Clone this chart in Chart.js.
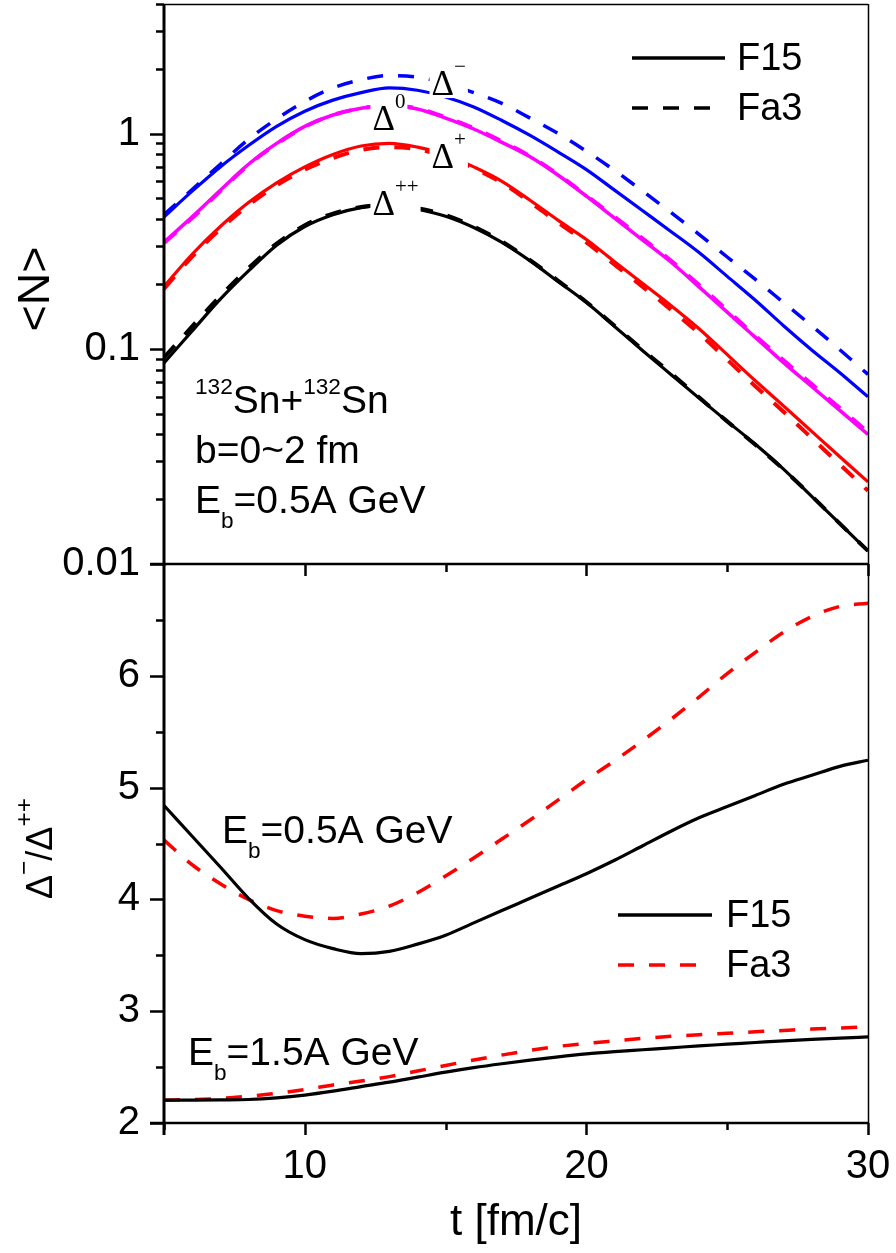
<!DOCTYPE html>
<html>
<head>
<meta charset="utf-8">
<script src="https://cdn.jsdelivr.net/npm/chart.js@4.4.1/dist/chart.umd.min.js"></script>
<style>
    html, body { margin: 0; padding: 0; background: #fff; }
    #wrap { position: relative; width: 896px; height: 1253px; }
    canvas { position: absolute; left: 0; }
    #topChart { top: 0; }
    #botChart { top: 540px; }
</style>
</head>
<body>
<div id="wrap">
    <canvas id="topChart" width="896" height="600"></canvas>
    <canvas id="botChart" width="896" height="713"></canvas>
</div>
<script>
// time axis (fm/c)
const tValues = [5, 6, 7, 8, 9, 10, 11, 12, 13, 14, 15, 16, 17, 18, 19, 20, 21, 22, 23, 24, 25, 26, 27, 28, 29, 30];

// upper panel: <N> of each delta species
const dMinusF15 = [0.41, 0.54, 0.70, 0.88, 1.08, 1.27, 1.43, 1.55, 1.63, 1.59, 1.48, 1.33, 1.15, 0.98, 0.82, 0.68, 0.546, 0.438, 0.351, 0.28, 0.217, 0.168, 0.128, 0.0988, 0.0774, 0.0598];
const dMinusFa3 = [0.42, 0.55, 0.72, 0.94, 1.17, 1.41, 1.63, 1.78, 1.86, 1.83, 1.71, 1.55, 1.38, 1.18, 1.0, 0.828, 0.674, 0.54, 0.43, 0.34, 0.267, 0.21, 0.164, 0.128, 0.099, 0.076];
const dZeroF15 = [0.313, 0.41, 0.545, 0.72, 0.90, 1.08, 1.22, 1.31, 1.35, 1.30, 1.18, 1.05, 0.91, 0.78, 0.64, 0.512, 0.405, 0.32, 0.253, 0.194, 0.148, 0.113, 0.0863, 0.0668, 0.0517, 0.040];
const dZeroFa3 = [0.31, 0.405, 0.54, 0.715, 0.895, 1.075, 1.22, 1.31, 1.35, 1.31, 1.19, 1.06, 0.92, 0.785, 0.645, 0.515, 0.41, 0.325, 0.257, 0.198, 0.151, 0.115, 0.0885, 0.0685, 0.053, 0.041];
const dPlusF15 = [0.195, 0.275, 0.37, 0.478, 0.59, 0.70, 0.80, 0.875, 0.90, 0.865, 0.80, 0.70, 0.60, 0.49, 0.395, 0.322, 0.254, 0.201, 0.159, 0.124, 0.094, 0.071, 0.0543, 0.0413, 0.0315, 0.0241];
const dPlusFa3 = [0.19, 0.268, 0.36, 0.465, 0.575, 0.68, 0.77, 0.84, 0.865, 0.845, 0.78, 0.69, 0.59, 0.48, 0.385, 0.312, 0.246, 0.194, 0.152, 0.118, 0.089, 0.067, 0.051, 0.0385, 0.029, 0.0219];
const dPPF15 = [0.086, 0.121, 0.170, 0.230, 0.303, 0.370, 0.420, 0.453, 0.465, 0.445, 0.413, 0.366, 0.312, 0.256, 0.205, 0.164, 0.127, 0.098, 0.076, 0.059, 0.046, 0.036, 0.0276, 0.0206, 0.0154, 0.0115];
const dPPFa3 = [0.091, 0.127, 0.176, 0.237, 0.308, 0.375, 0.425, 0.456, 0.467, 0.45, 0.418, 0.37, 0.315, 0.258, 0.207, 0.165, 0.128, 0.099, 0.077, 0.0595, 0.046, 0.0358, 0.0275, 0.0207, 0.0154, 0.0115];

// lower panel: ratio delta- / delta++
const ratio05F15 = [4.84, 4.565, 4.29, 4.01, 3.78, 3.64, 3.56, 3.515, 3.535, 3.60, 3.68, 3.79, 3.90, 4.01, 4.12, 4.23, 4.35, 4.48, 4.61, 4.73, 4.83, 4.93, 5.03, 5.11, 5.19, 5.245];
const ratio05Fa3 = [4.53, 4.31, 4.14, 4.0, 3.9, 3.85, 3.83, 3.87, 3.94, 4.06, 4.21, 4.37, 4.54, 4.71, 4.89, 5.07, 5.24, 5.42, 5.61, 5.81, 6.02, 6.21, 6.39, 6.53, 6.62, 6.65];
const ratio15F15 = [2.204, 2.205, 2.207, 2.21, 2.225, 2.25, 2.285, 2.325, 2.365, 2.41, 2.455, 2.495, 2.53, 2.562, 2.592, 2.618, 2.638, 2.655, 2.672, 2.69, 2.705, 2.72, 2.735, 2.748, 2.76, 2.77];
const ratio15Fa3 = [2.204, 2.21, 2.22, 2.24, 2.265, 2.30, 2.34, 2.375, 2.415, 2.465, 2.515, 2.563, 2.608, 2.65, 2.685, 2.712, 2.735, 2.757, 2.775, 2.79, 2.803, 2.816, 2.828, 2.84, 2.85, 2.86];

// ticks
const xLabelVals = [10, 20, 30];
const xMinorVals = [5, 15, 25];
const topYLabelVals = [0.01, 0.1, 1];
const topYLabels = ['0.01', '0.1', '1'];
const topYMinorVals = [0.02, 0.03, 0.04, 0.05, 0.06, 0.07, 0.08, 0.09, 0.2, 0.3, 0.4, 0.5, 0.6, 0.7, 0.8, 0.9, 2, 3, 4];
const botYLabelVals = [2, 3, 4, 5, 6];
const botYMinorVals = [2.5, 3.5, 4.5, 5.5, 6.5];

const SANS = "'Liberation Sans', Arial, sans-serif";
const SERIF = "'Liberation Serif', 'Times New Roman', serif";
const DASH = [16, 15];

function pts(ys) {
    return tValues.map((t, i) => ({ x: t, y: ys[i] }));
}

function curve(label, ys, color, dashed, width) {
    return {
        label: label,
        data: pts(ys),
        borderColor: color,
        borderWidth: width,
        borderDash: dashed ? DASH : [],
        pointRadius: 0,
        fill: false,
        cubicInterpolationMode: 'monotone'
    };
}

// text with super/subscripts; parts = [[text, 'sup'|'sub'|'']]
function rich(ctx, x, y, parts, size, family, o, measureOnly) {
    o = o || {};
    const supScale = o.supScale || 0.58, supShift = o.supShift || 0.5;
    const subScale = o.subScale || 0.58, subShift = o.subShift || 0.38;
    let cx = x;
    ctx.textBaseline = 'alphabetic';
    ctx.textAlign = 'left';
    for (const [txt, kind] of parts) {
        let fs = size, dy = 0;
        if (kind === 'sup') { fs = size * supScale; dy = -size * supShift; }
        if (kind === 'sub') { fs = size * subScale; dy = size * subShift; }
        ctx.font = fs + 'px ' + family;
        if (!measureOnly) ctx.fillText(txt, cx, y + dy);
        cx += ctx.measureText(txt).width;
    }
    return cx - x;
}

function tickY(ctx, scale, x, vals, len) {
    vals.forEach(v => {
        const y = Math.round(scale.getPixelForValue(v)) + 0.5;
        ctx.beginPath();
        ctx.moveTo(x - len, y);
        ctx.lineTo(x, y);
        ctx.stroke();
    });
}

function tickX(ctx, scale, y, vals, len) {
    vals.forEach(v => {
        const x = Math.round(scale.getPixelForValue(v)) + 0.5;
        ctx.beginPath();
        ctx.moveTo(x, y);
        ctx.lineTo(x, y + len);
        ctx.stroke();
    });
}

function legendRow(ctx, x0, x1, y, color, dashed, text, tx) {
    ctx.save();
    ctx.strokeStyle = color;
    ctx.lineWidth = 3.5;
    ctx.setLineDash(dashed ? DASH : []);
    ctx.beginPath();
    ctx.moveTo(x0, y);
    ctx.lineTo(x1, y);
    ctx.stroke();
    ctx.restore();
    ctx.fillStyle = '#000';
    ctx.font = '38px ' + SANS;
    ctx.textAlign = 'left';
    ctx.textBaseline = 'middle';
    ctx.fillText(text, tx, y + 2);
}

// drop the automatic label padding so the plot areas line up exactly
function noPad(s) {
    s.paddingTop = 0;
    s.paddingBottom = 0;
    s.paddingLeft = 0;
    s.paddingRight = 0;
}

// delta labels on the upper panel, anchored in data space
const deltaLabels = [
    { sup: '\u2212', t: 14.5, v: 1.51 },
    { sup: '0', t: 12.4, v: 1.04 },
    { sup: '+', t: 14.5, v: 0.692 },
    { sup: '++', t: 12.4, v: 0.418 }
];

const topDecor = {
    id: 'topDecor',
    afterDatasetsDraw(chart) {
        const { ctx, scales: { x, y } } = chart;
        ctx.save();
        deltaLabels.forEach(d => {
            const px = x.getPixelForValue(d.t);
            const py = y.getPixelForValue(d.v);
            const opts = { supScale: 0.6, supShift: 0.64 };
            const w = rich(ctx, px, py, [['\u0394', ''], [d.sup, 'sup']], 35, SERIF, opts, true);
            ctx.fillStyle = '#fff';
            ctx.fillRect(px - 2, py - 36, w + 4, 39);
            ctx.fillStyle = '#000';
            rich(ctx, px, py, [['\u0394', ''], [d.sup, 'sup']], 35, SERIF, opts);
        });
        ctx.restore();
    },
    afterDraw(chart) {
        const { ctx, chartArea: a, scales: { x, y } } = chart;
        ctx.save();
        ctx.strokeStyle = '#000';
        // frame
        ctx.lineWidth = 1.5;
        ctx.beginPath();
        ctx.moveTo(a.left, a.top + 0.5);
        ctx.lineTo(a.right, a.top + 0.5);
        ctx.moveTo(a.right + 0.5, a.top);
        ctx.lineTo(a.right + 0.5, a.bottom);
        ctx.stroke();
        ctx.lineWidth = 3;
        ctx.beginPath();
        ctx.moveTo(a.left, a.top);
        ctx.lineTo(a.left, a.bottom + 2);
        ctx.stroke();
        ctx.lineWidth = 2.5;
        ctx.beginPath();
        ctx.moveTo(a.left - 14, a.bottom);
        ctx.lineTo(a.right + 1, a.bottom);
        ctx.stroke();
        // ticks
        ctx.lineWidth = 2.5;
        tickY(ctx, y, a.left, topYLabelVals, 14);
        tickY(ctx, y, a.left, topYMinorVals, 8);
        tickX(ctx, x, a.bottom, xLabelVals, 12);
        tickX(ctx, x, a.bottom, [15, 25], 8);

        // legend
        legendRow(ctx, a.right - 236, a.right - 143, a.top + 54, '#000', false, 'F15', a.right - 131);
        legendRow(ctx, a.right - 236, a.right - 158, a.top + 104, '#000', true, 'Fa3', a.right - 131);

        // reaction annotation
        ctx.fillStyle = '#000';
        const fs = 39;
        rich(ctx, a.left + 31, a.top + 409, [['132', 'sup'], ['Sn+', ''], ['132', 'sup'], ['Sn', '']], fs, SANS);
        rich(ctx, a.left + 31, a.top + 459, [['b=0~2 fm', '']], fs, SANS);
        rich(ctx, a.left + 31, a.top + 509, [['E', ''], ['b', 'sub'], ['=0.5A GeV', '']], fs, SANS);

        // y title
        ctx.translate(37, (a.top + a.bottom) / 2 + 5);
        ctx.rotate(-Math.PI / 2);
        ctx.font = '45px ' + SANS;
        ctx.textAlign = 'center';
        ctx.textBaseline = 'middle';
        ctx.fillText('<N>', 0, 0);
        ctx.restore();
    }
};

const botDecor = {
    id: 'botDecor',
    afterDraw(chart) {
        const { ctx, chartArea: a, scales: { x, y } } = chart;
        ctx.save();
        ctx.strokeStyle = '#000';
        ctx.lineWidth = 1.5;
        ctx.beginPath();
        ctx.moveTo(a.right + 0.5, a.top);
        ctx.lineTo(a.right + 0.5, a.bottom);
        ctx.stroke();
        ctx.lineWidth = 3;
        ctx.beginPath();
        ctx.moveTo(a.left, a.top);
        ctx.lineTo(a.left, a.bottom + 12);
        ctx.stroke();
        ctx.lineWidth = 2.5;
        ctx.beginPath();
        ctx.moveTo(a.left - 14, a.bottom);
        ctx.lineTo(a.right + 1, a.bottom);
        ctx.stroke();
        tickY(ctx, y, a.left, botYLabelVals, 14);
        tickY(ctx, y, a.left, botYMinorVals, 8);
        tickX(ctx, x, a.bottom, xLabelVals, 12);
        tickX(ctx, x, a.bottom, xMinorVals, 7);

        // legend
        legendRow(ctx, a.right - 250, a.right - 156, a.top + 351, '#000', false, 'F15', a.right - 142);
        legendRow(ctx, a.right - 250, a.right - 170, a.top + 401, '#ff0000', true, 'Fa3', a.right - 142);

        // beam energy labels
        ctx.fillStyle = '#000';
        rich(ctx, a.left + 58, a.top + 279, [['E', ''], ['b', 'sub'], ['=0.5A GeV', '']], 39, SANS);
        rich(ctx, a.left + 24, a.top + 501, [['E', ''], ['b', 'sub'], ['=1.5A GeV', '']], 39, SANS);

        // x title
        ctx.font = '44px ' + SANS;
        ctx.textAlign = 'center';
        ctx.textBaseline = 'middle';
        ctx.fillText('t [fm/c]', (a.left + a.right) / 2, a.bottom + 100);

        // y title, rotated
        const parts = [['\u0394', ''], ['\u2212', 'sup'], ['/\u0394', ''], ['++', 'sup']];
        const opts = { supScale: 0.68, supShift: 0.55 };
        const w = rich(ctx, 0, 0, parts, 36, SANS, opts, true);
        ctx.translate(52, (a.top + a.bottom) / 2 + 5);
        ctx.rotate(-Math.PI / 2);
        rich(ctx, -w / 2, 0, parts, 36, SANS, opts);
        ctx.restore();
    }
};

const tickFont = { family: SANS, size: 40 };

const topChart = new Chart(document.getElementById('topChart'), {
    type: 'line',
    data: {
        datasets: [
            curve('\u0394- Fa3', dMinusFa3, '#0000ff', true, 3.5),
            curve('\u0394- F15', dMinusF15, '#0000ff', false, 3.2),
            curve('\u03940 Fa3', dZeroFa3, '#ff00ff', true, 4),
            curve('\u03940 F15', dZeroF15, '#ff00ff', false, 3.5),
            curve('\u0394+ Fa3', dPlusFa3, '#ff0000', true, 4),
            curve('\u0394+ F15', dPlusF15, '#ff0000', false, 3.2),
            curve('\u0394++ Fa3', dPPFa3, '#000000', true, 4),
            curve('\u0394++ F15', dPPF15, '#000000', false, 3.2)
        ]
    },
    options: {
        responsive: false,
        animation: false,
        layout: { padding: { top: 4, right: 28, left: 0, bottom: 0 } },
        plugins: { legend: { display: false }, tooltip: { enabled: false } },
        scales: {
            x: {
                type: 'linear', min: 5, max: 30,
                grid: { display: false, drawTicks: false },
                border: { display: false },
                ticks: { display: false },
                afterFit: s => { s.height = 36; noPad(s); }
            },
            y: {
                type: 'logarithmic', min: 0.01, max: 4,
                grid: { display: false, drawTicks: false },
                border: { display: false },
                afterBuildTicks: s => { s.ticks = topYLabelVals.map(v => ({ value: v })); },
                ticks: {
                    font: tickFont, color: '#000', padding: 24,
                    callback: v => topYLabels[topYLabelVals.indexOf(v)]
                },
                afterFit: s => { s.width = 164; noPad(s); }
            }
        }
    },
    plugins: [topDecor]
});

const botChart = new Chart(document.getElementById('botChart'), {
    type: 'line',
    data: {
        datasets: [
            curve('0.5A GeV F15', ratio05F15, '#000000', false, 3.2),
            curve('0.5A GeV Fa3', ratio05Fa3, '#ff0000', true, 3.5),
            curve('1.5A GeV F15', ratio15F15, '#000000', false, 3.2),
            curve('1.5A GeV Fa3', ratio15Fa3, '#ff0000', true, 3.5)
        ]
    },
    options: {
        responsive: false,
        animation: false,
        layout: { padding: { top: 24, right: 28, left: 0, bottom: 0 } },
        plugins: { legend: { display: false }, tooltip: { enabled: false } },
        scales: {
            x: {
                type: 'linear', min: 5, max: 30,
                grid: { display: false, drawTicks: false },
                border: { display: false },
                afterBuildTicks: s => { s.ticks = xLabelVals.map(v => ({ value: v })); },
                ticks: { font: tickFont, color: '#000', padding: 20, maxRotation: 0 },
                afterFit: s => { s.height = 130; noPad(s); }
            },
            y: {
                type: 'linear', min: 2, max: 7,
                grid: { display: false, drawTicks: false },
                border: { display: false },
                afterBuildTicks: s => { s.ticks = botYLabelVals.map(v => ({ value: v })); },
                ticks: { font: tickFont, color: '#000', padding: 24 },
                afterFit: s => { s.width = 164; noPad(s); }
            }
        }
    },
    plugins: [botDecor]
});
</script>
</body>
</html>
